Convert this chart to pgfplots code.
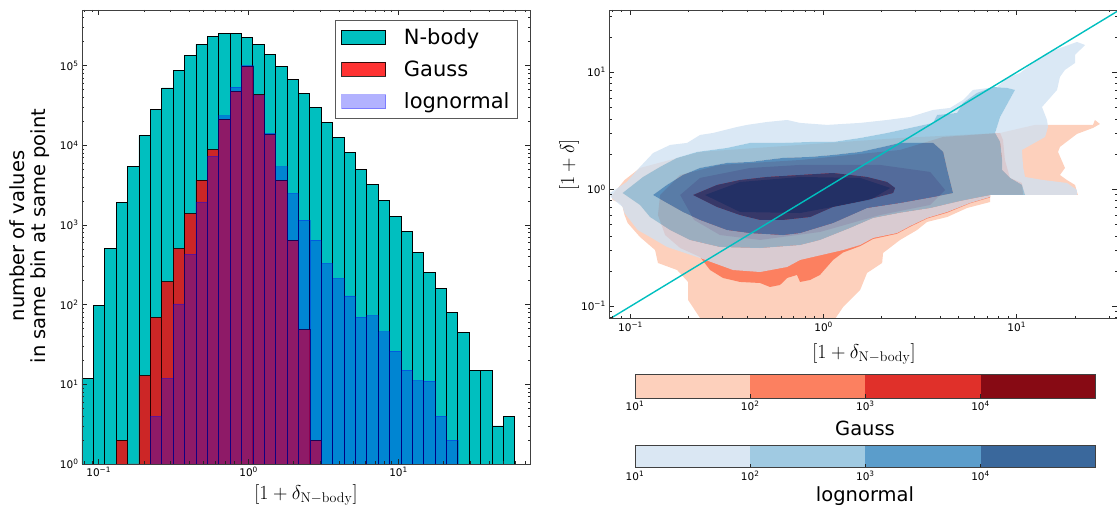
\RequirePackage{fix-cm}
\documentclass[border=0pt]{standalone}
\usepackage[no-math]{fontspec}
\setmainfont{DejaVu Sans}
\usepackage{pgfplots}
\pgfplotsset{compat=1.18}
\usepackage{pgfplotstable}

\definecolor{nbody}{RGB}{0,191,191}
\definecolor{ra}{HTML}{FDD0BC}
\definecolor{rb}{HTML}{FC8060}
\definecolor{rc}{HTML}{E0302A}
\definecolor{rd}{HTML}{870A14}
\definecolor{ba}{HTML}{D0E1F2}
\definecolor{bb}{HTML}{82BBDB}
\definecolor{bc}{HTML}{2C7CBB}
\definecolor{bd}{HTML}{083B7C}
\definecolor{cba}{HTML}{DAE7F3}
\definecolor{cbb}{HTML}{A0CAE2}
\definecolor{cbc}{HTML}{5B9DCB}
\definecolor{cbd}{HTML}{3A689C}

\newcommand{\tl}[1]{10\textsuperscript{#1}}

% lognormal contour outlines (log10 units)
\newcommand{\BA}{(-1.106,-0.032) (-1.020,0.062) (-0.951,0.191) (-0.883,0.310) (-0.795,0.379) (-0.707,0.396) (-0.640,0.464) (-0.573,0.481) (-0.449,0.532) (-0.397,0.550) (-0.293,0.575) (-0.189,0.592) (-0.122,0.567) (0.018,0.550) (0.189,0.567) (0.329,0.592) (0.448,0.618) (0.567,0.678) (0.655,0.695) (0.722,0.763) (0.774,0.849) (0.898,0.874) (0.950,0.951) (1.017,0.994) (1.084,1.079) (1.157,1.165) (1.240,1.216) (1.312,1.259) (1.354,1.233) (1.302,1.148) (1.302,1.079) (1.250,1.020) (1.224,0.960) (1.209,0.849) (1.131,0.703) (1.157,0.592) (1.162,0.532) (1.147,0.447) (1.027,0.336) (1.033,0.191) (1.043,0.105) (1.136,0.079) (1.260,0.054) (1.312,-0.006) (1.312,-0.049) (0.862,-0.049) (0.862,-0.066) (0.758,-0.117) (0.640,-0.194) (0.536,-0.245) (0.448,-0.314) (0.380,-0.374) (0.256,-0.416) (0.189,-0.476) (0.101,-0.519) (-0.122,-0.604) (-0.189,-0.664) (-0.329,-0.707) (-0.469,-0.690) (-0.640,-0.587) (-0.811,-0.493) (-0.899,-0.408) (-0.963,-0.348) (-1.031,-0.203) (-1.041,-0.151) (-1.103,-0.066) (-1.106,-0.032)}
\newcommand{\BB}{(-1.041,-0.032) (-0.935,0.105) (-0.847,0.191) (-0.759,0.268) (-0.655,0.319) (-0.500,0.353) (-0.381,0.396) (-0.226,0.396) (-0.070,0.404) (0.049,0.404) (0.189,0.438) (0.329,0.481) (0.448,0.524) (0.567,0.567) (0.588,0.635) (0.691,0.652) (0.722,0.738) (0.794,0.823) (0.877,0.874) (0.950,0.866) (0.991,0.849) (0.914,0.618) (0.888,0.481) (0.914,0.404) (0.924,0.250) (0.924,0.165) (0.965,0.097) (1.027,0.037) (1.043,-0.049) (0.862,-0.049) (0.706,-0.100) (0.552,-0.160) (0.396,-0.200) (0.256,-0.245) (0.137,-0.330) (-0.019,-0.433) (-0.122,-0.476) (-0.329,-0.502) (-0.537,-0.493) (-0.692,-0.433) (-0.795,-0.348) (-0.899,-0.237) (-0.951,-0.134) (-1.041,-0.032)}
\newcommand{\BC}{(-0.883,-0.049) (-0.811,0.037) (-0.728,0.122) (-0.640,0.182) (-0.500,0.225) (-0.381,0.233) (-0.210,0.268) (-0.070,0.276) (0.049,0.293) (0.189,0.319) (0.308,0.362) (0.396,0.396) (0.567,0.396) (0.619,0.319) (0.640,0.165) (0.670,-0.032) (0.567,-0.066) (0.396,-0.117) (0.225,-0.160) (0.049,-0.288) (-0.122,-0.374) (-0.210,-0.391) (-0.381,-0.374) (-0.500,-0.348) (-0.640,-0.262) (-0.728,-0.194) (-0.811,-0.117) (-0.883,-0.049)}
\newcommand{\BD}{(-0.676,-0.049) (-0.552,0.037) (-0.433,0.079) (-0.293,0.105) (-0.122,0.122) (0.049,0.139) (0.225,0.105) (0.329,0.062) (0.370,0.011) (0.360,-0.032) (0.225,-0.091) (0.049,-0.151) (-0.070,-0.237) (-0.210,-0.262) (-0.329,-0.262) (-0.433,-0.220) (-0.552,-0.151) (-0.676,-0.049)}

\pgfplotsset{
  mybarlegend/.style={legend image code/.code={\draw[##1] (0pt,-7pt) rectangle (44pt,7pt);}},
  panel/.style={scale only axis, tick align=inside,
    axis line style={black!75, line width=0.9pt},
    tick style={black!85, line width=0.6pt},
    major tick length=5pt, minor tick length=2.5pt,
    ticklabel style={font=\fontsize{10.5}{12}\selectfont}},
  band/.style={fill=#1, fill opacity=0.78, draw=none, even odd rule, unbounded coords=jump},
}

% N-body histogram: left bin edge, count (last row = right edge)
\pgfplotstableread{
x y
0.07737 12
0.09219 98
0.1098 508
0.1308 1900
0.1558 5430
0.1856 13200
0.2211 28200
0.2634 52600
0.3137 87800
0.3737 133000
0.4452 185000
0.5303 230000
0.6317 254000
0.7525 251000
0.8960 224000
1.0673 185000
1.2712 138000
1.5142 96600
1.8040 67000
2.1484 44800
2.5592 29600
3.0489 19400
3.6308 12700
4.3251 8150
5.1523 5020
6.1376 3230
7.3100 2010
8.7087 1290
10.373 832
12.355 450
14.720 256
17.532 158
20.878 80
24.870 45
29.627 15
35.300 15
42.030 3
50.07 4
59.65 4
}\nbody

\pgfplotstableread{
x y
0.1308 2
0.1558 1
0.1856 13
0.2211 70
0.2634 194
0.3137 508
0.3737 1400
0.4452 3660
0.5303 8880
0.6317 21300
0.7525 47900
0.8960 99000
1.0673 43500
1.2712 13700
1.5142 3660
1.8040 646
2.1484 49
2.5592 2
3.0489 2
}\gauss

\pgfplotstableread{
x y
0.2211 4
0.2634 12
0.3137 102
0.3737 431
0.4452 1950
0.5303 7310
0.6317 23500
0.7525 53700
0.8960 100000
1.0673 42000
1.2712 14100
1.5142 5380
1.8040 2490
2.1484 1150
2.5592 646
3.0489 330
3.6308 214
4.3251 129
5.1523 70
6.1376 72.6
7.3100 45.7
8.7087 26.2
10.373 15.1
12.355 11.1
14.720 11
17.532 4
20.878 2
24.870 2
}\lognorm

\begin{document}
\begin{tikzpicture}
\path[use as bounding box] (0,0) rectangle (1117pt,510pt);

% ---------------- left: histograms ----------------
\begin{axis}[panel,
  at={(82pt,46pt)}, anchor=south west, width=448pt, height=454pt,
  xmode=log, ymode=log,
  xmin=0.07737, xmax=75.3, ymin=1, ymax=5e5,
  xtick={0.1,1,10}, xticklabels={\tl{−1},\tl{0},\tl{1}},
  ytick={1,10,100,1000,10000,100000},
  yticklabels={\tl{0},\tl{1},\tl{2},\tl{3},\tl{4},\tl{5}},
  minor xtick={0.08,0.09,0.2,0.3,0.4,0.5,0.6,0.7,0.8,0.9,2,3,4,5,6,7,8,9,20,30,40,50,60,70},
  minor ytick={2,3,4,5,6,7,8,9,20,30,40,50,60,70,80,90,200,300,400,500,600,700,800,900,2000,3000,4000,5000,6000,7000,8000,9000,20000,30000,40000,50000,60000,70000,80000,90000,200000,300000,400000},
  axis on top,
  legend cell align=left,
  legend style={at={(1,1)}, anchor=north east, xshift=-12pt, yshift=-10pt,
    draw=black!65, line width=0.9pt, font=\fontsize{21}{25}\selectfont,
    row sep=11pt, inner xsep=6pt, inner ysep=6pt,
    /tikz/every odd column/.append style={column sep=16pt}},
]
\addplot[ybar interval, fill=nbody, draw=black, line width=0.8pt, mybarlegend] table {\nbody};
\addlegendentry{N-body}
\addplot[ybar interval, fill=red, draw=black, opacity=0.8, line width=0.6pt, mybarlegend] table {\gauss};
\addlegendentry{Gauss}
\addplot[ybar interval, fill=blue, draw=blue, opacity=0.3, line width=0.6pt, mybarlegend] table {\lognorm};
\addlegendentry{lognormal}
\end{axis}

% ---------------- right: contours ----------------
\begin{axis}[panel,
  at={(609.3pt,191.3pt)}, anchor=south west, width=508pt, height=308.7pt,
  xmin=-1.110, xmax=1.521, ymin=-1.106, ymax=1.532,
  xtick={-1,0,1}, xticklabels={\tl{−1},\tl{0},\tl{1}},
  ytick={-1,0,1}, yticklabels={\tl{−1},\tl{0},\tl{1}},
  minor xtick={-1.0969,-1.0458,-0.6990,-0.5229,-0.3979,-0.3010,-0.2218,-0.1549,-0.0969,-0.0458,0.3010,0.4771,0.6021,0.6990,0.7782,0.8451,0.9031,0.9542,1.3010,1.4771},
  minor ytick={-1.0969,-1.0458,-0.6990,-0.5229,-0.3979,-0.3010,-0.2218,-0.1549,-0.0969,-0.0458,0.3010,0.4771,0.6021,0.6990,0.7782,0.8451,0.9031,0.9542,1.3010,1.4771},
  axis on top,
]
% Gauss (opaque)
\addplot[fill=ra, draw=none] coordinates {
(-1.098,-0.057) (-1.031,0.079) (-0.951,0.182) (-0.640,0.319) (-0.122,0.379) (0.396,0.438) (0.914,0.481) (1.095,0.550) (1.395,0.550) (1.405,0.592) (1.431,0.558) (1.395,0.524) (1.312,0.473) (1.224,0.362) (1.214,0.319) (1.250,0.182) (1.224,0.122) (1.260,0.079) (1.302,0.037) (1.317,-0.049) (0.862,-0.049) (0.862,-0.109) (0.743,-0.160) (0.640,-0.237) (0.536,-0.279) (0.484,-0.348) (0.396,-0.433) (0.308,-0.544) (0.303,-0.630) (0.225,-0.715) (0.189,-0.861) (0.101,-1.006) (0.059,-1.109) (0.049,-1.2) (-0.655,-1.2) (-0.640,-1.100) (-0.702,-0.946) (-0.702,-0.792) (-0.759,-0.690) (-0.858,-0.630) (-0.873,-0.519) (-0.951,-0.408) (-1.015,-0.288) (-1.031,-0.220) (-1.041,-0.151) (-1.056,-0.117) (-1.093,-0.091)
} -- cycle;
\addplot[fill=rb, draw=none] coordinates {
(-0.821,-0.391) (-0.743,-0.502) (-0.640,-0.579) (-0.588,-0.690) (-0.521,-0.758) (-0.433,-0.792) (-0.329,-0.801) (-0.278,-0.835) (-0.226,-0.818) (-0.189,-0.758) (-0.138,-0.732) (-0.122,-0.792) (-0.070,-0.775) (-0.019,-0.732) (0.049,-0.604) (0.101,-0.540) (0.189,-0.486) (0.256,-0.425) (0.380,-0.380) (0.448,-0.320) (0.536,-0.250) (0.640,-0.200) (0.758,-0.120) (0.862,-0.070) (0.862,-0.049) (1.033,-0.049) (1.027,0.054) (0.965,0.097) (0.939,0.250) (0.929,0.421) (0.914,0.481) (0.619,0.447) (0.396,0.336) (-0.122,0.250) (-0.537,0.208) (-0.743,0.122) (-0.847,-0.049) (-0.858,-0.220)
} -- cycle;
\addplot[fill=rc, draw=none] coordinates {
(-0.743,-0.049) (-0.640,0.097) (-0.381,0.182) (-0.122,0.208) (0.292,0.208) (0.552,0.148) (0.629,-0.006) (0.552,-0.134) (0.292,-0.220) (-0.019,-0.365) (-0.329,-0.433) (-0.537,-0.391) (-0.671,-0.262)
} -- cycle;
\addplot[fill=rd, draw=none] coordinates {
(-0.614,-0.049) (-0.433,0.062) (-0.122,0.105) (0.189,0.097) (0.345,0.011) (0.241,-0.091) (-0.122,-0.203) (-0.433,-0.194)
} -- cycle;
% lognormal bands (translucent, each level a ring)
\addplot[band=ba] coordinates {\BA (nan,nan) \BB};
\addplot[band=bb] coordinates {\BB (nan,nan) \BC};
\addplot[band=bc] coordinates {\BC (nan,nan) \BD};
\addplot[band=bd] coordinates {\BD};
\addplot[color=nbody, line width=1.4pt] coordinates {(-1.2,-1.2) (1.6,1.6)};
\end{axis}

% ---------------- colour bars ----------------
\begin{axis}[panel,
  at={(635pt,112pt)}, anchor=south west, width=460.7pt, height=23.3pt,
  xmin=1, xmax=5, ymin=0, ymax=1, ytick=\empty,
  xtick={1,2,3,4}, xticklabels={\tl{1},\tl{2},\tl{3},\tl{4}},
  xtick pos=left, major tick length=4pt, axis on top]
\addplot[fill=ra, draw=none] coordinates {(1,0) (2,0) (2,1) (1,1)} -- cycle;
\addplot[fill=rb, draw=none] coordinates {(2,0) (3,0) (3,1) (2,1)} -- cycle;
\addplot[fill=rc, draw=none] coordinates {(3,0) (4,0) (4,1) (3,1)} -- cycle;
\addplot[fill=rd, draw=none] coordinates {(4,0) (5,0) (5,1) (4,1)} -- cycle;
\end{axis}

\begin{axis}[panel,
  at={(635pt,42.3pt)}, anchor=south west, width=460.7pt, height=22.7pt,
  xmin=1, xmax=5, ymin=0, ymax=1, ytick=\empty,
  xtick={1,2,3,4}, xticklabels={\tl{1},\tl{2},\tl{3},\tl{4}},
  xtick pos=left, major tick length=4pt, axis on top]
\addplot[fill=cba, draw=none] coordinates {(1,0) (2,0) (2,1) (1,1)} -- cycle;
\addplot[fill=cbb, draw=none] coordinates {(2,0) (3,0) (3,1) (2,1)} -- cycle;
\addplot[fill=cbc, draw=none] coordinates {(3,0) (4,0) (4,1) (3,1)} -- cycle;
\addplot[fill=cbd, draw=none] coordinates {(4,0) (5,0) (5,1) (4,1)} -- cycle;
\end{axis}

% ---------------- labels ----------------
\node[anchor=base, font=\fontsize{20}{24}\selectfont] at (306pt,10pt) {$[1+\delta_{\mathrm{N{-}body}}]$};
\node[anchor=base, font=\fontsize{20}{24}\selectfont] at (864pt,151.7pt) {$[1+\delta_{\mathrm{N{-}body}}]$};
\node[anchor=base, rotate=90, font=\fontsize{20}{24}\selectfont] at (574pt,345pt) {$[1+\delta]$};
\node[rotate=90, align=center, inner sep=0pt, font=\fontsize{19.5}{21}\selectfont] at (30pt,274pt) {number of values\\in same bin at same point};
\node[anchor=base, font=\fontsize{19.5}{23}\selectfont] at (865pt,74pt) {Gauss};
\node[anchor=base, font=\fontsize{19.5}{23}\selectfont] at (865pt,8pt) {lognormal};
\end{tikzpicture}
\end{document}
